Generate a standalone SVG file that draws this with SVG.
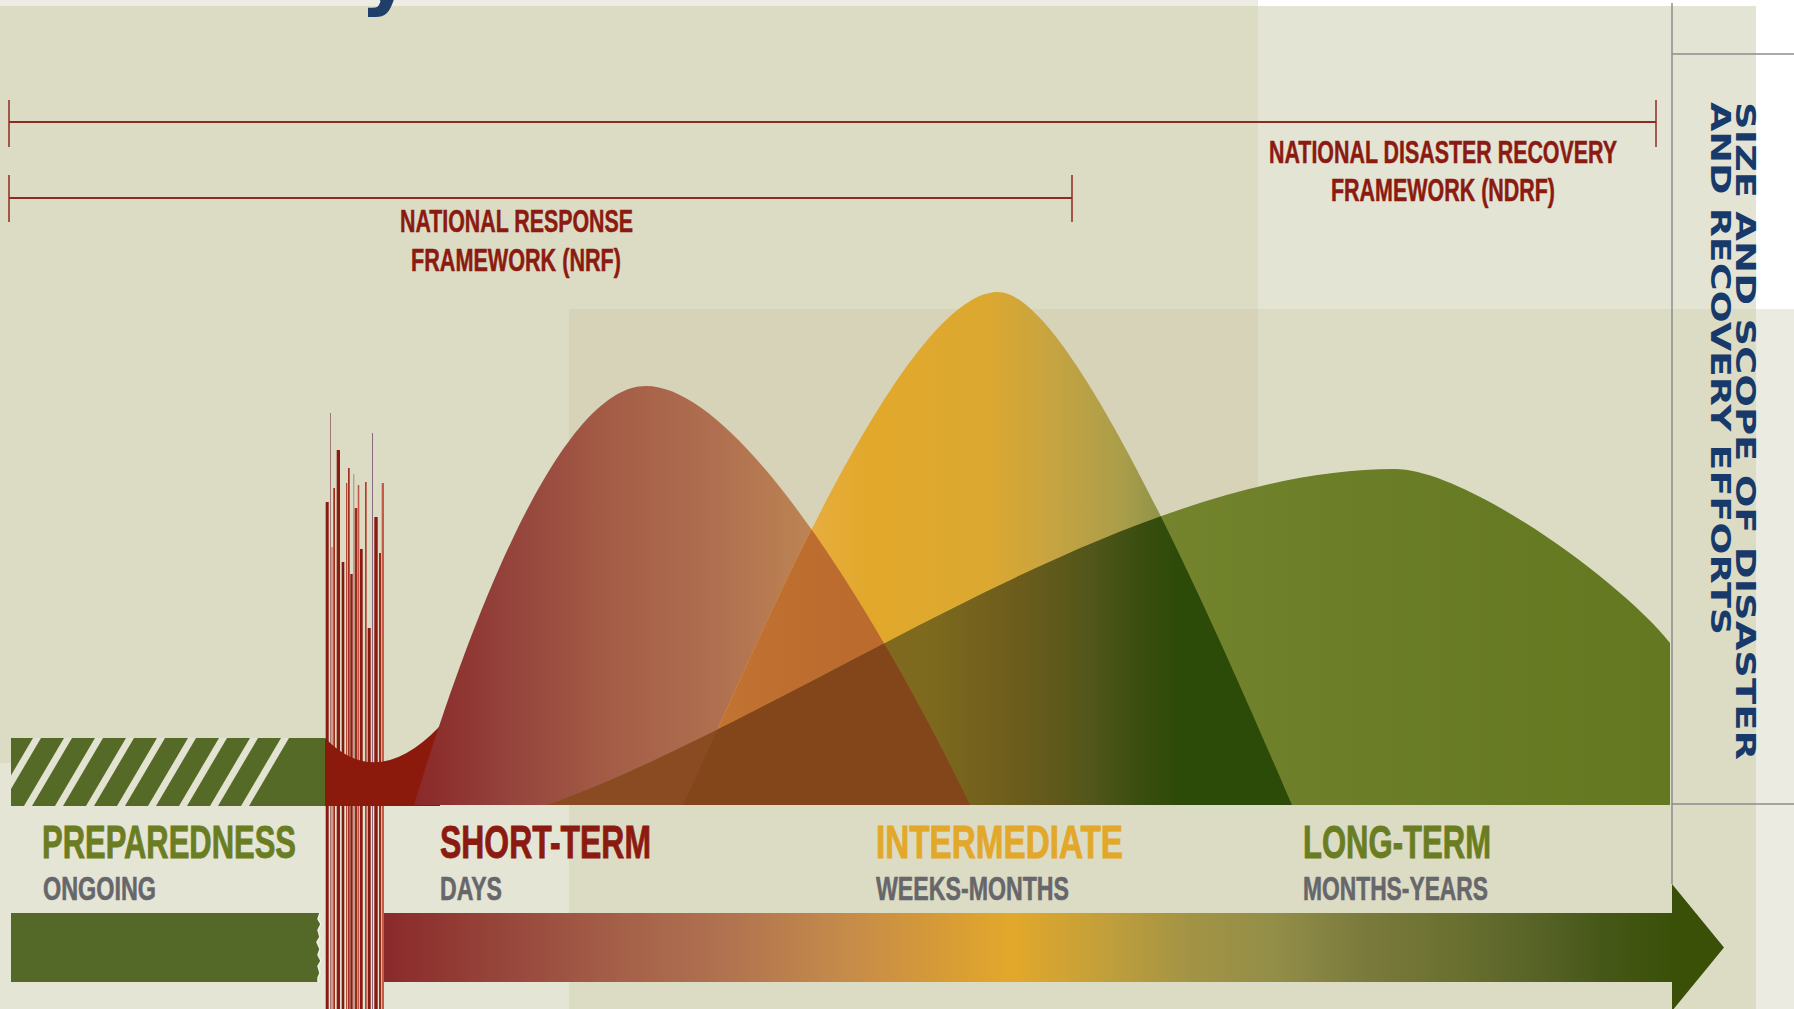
<svg xmlns="http://www.w3.org/2000/svg" width="1794" height="1009" viewBox="0 0 1794 1009">
<defs>
<style>
.lbl{font-family:"Liberation Sans Narrow","Liberation Sans",Arial,sans-serif;font-weight:bold}
.fw{fill:#8b1a10;stroke:#8b1a10;stroke-width:0.5;font-size:31px}
.big{font-size:47px;stroke-width:0.9}
.sub{font-size:33px;fill:#67676b;stroke:#67676b;stroke-width:0.6}
.vt{font-family:"DejaVu Sans",Verdana,sans-serif;font-weight:bold;font-size:26px;fill:#173a6b}
.br{stroke:#8f2a22;fill:none}
.gl{stroke:#8c8c8c;stroke-width:1.5;fill:none}
.stripe{fill:#e3e3d1}
</style>
<linearGradient id="gR" gradientUnits="userSpaceOnUse" x1="414" y1="0" x2="970" y2="0">
<stop offset="0" stop-color="#8a2828"/><stop offset="0.15" stop-color="#93403a"/><stop offset="0.35" stop-color="#a45c46"/><stop offset="0.55" stop-color="#b07050"/><stop offset="0.7" stop-color="#bc8252"/><stop offset="1" stop-color="#c8905a"/>
</linearGradient>
<linearGradient id="gY" gradientUnits="userSpaceOnUse" x1="683" y1="0" x2="1292" y2="0">
<stop offset="0" stop-color="#f0ba62"/><stop offset="0.15" stop-color="#ebb04a"/><stop offset="0.3" stop-color="#e2a82c"/><stop offset="0.5" stop-color="#dca830"/><stop offset="0.6" stop-color="#c8a440"/><stop offset="0.72" stop-color="#aa9e4a"/><stop offset="0.8" stop-color="#8a9048"/><stop offset="1" stop-color="#5a6a28"/>
</linearGradient>
<linearGradient id="gO" gradientUnits="userSpaceOnUse" x1="683" y1="0" x2="970" y2="0">
<stop offset="0" stop-color="#c47634"/><stop offset="0.5" stop-color="#bc6c2e"/><stop offset="1" stop-color="#b8682a"/>
</linearGradient>
<linearGradient id="gG" gradientUnits="userSpaceOnUse" x1="547" y1="0" x2="1670" y2="0">
<stop offset="0" stop-color="#7a6a2a"/><stop offset="0.5" stop-color="#76862f"/><stop offset="0.7" stop-color="#6c7e28"/><stop offset="1" stop-color="#637820"/>
</linearGradient>
<linearGradient id="gGY" gradientUnits="userSpaceOnUse" x1="683" y1="0" x2="1292" y2="0">
<stop offset="0" stop-color="#82661e"/><stop offset="0.4" stop-color="#7e6a1e"/><stop offset="0.55" stop-color="#6c5c1c"/><stop offset="0.67" stop-color="#52561a"/><stop offset="0.75" stop-color="#3a4e10"/><stop offset="0.82" stop-color="#2c4a08"/><stop offset="1" stop-color="#2c4a08"/>
</linearGradient>
<linearGradient id="gA" gradientUnits="userSpaceOnUse" x1="384" y1="0" x2="1724" y2="0">
<stop offset="0" stop-color="#8a2a2a"/><stop offset="0.083" stop-color="#96443a"/><stop offset="0.169" stop-color="#a45e48"/><stop offset="0.254" stop-color="#b07250"/><stop offset="0.34" stop-color="#c48a4a"/><stop offset="0.404" stop-color="#d4983a"/><stop offset="0.468" stop-color="#e2a82a"/><stop offset="0.533" stop-color="#c4a03a"/><stop offset="0.597" stop-color="#a49444"/><stop offset="0.666" stop-color="#928e48"/><stop offset="0.732" stop-color="#7a7a3c"/><stop offset="0.799" stop-color="#6a7030"/><stop offset="0.864" stop-color="#566226"/><stop offset="0.907" stop-color="#465818"/><stop offset="0.963" stop-color="#3a5008"/><stop offset="1" stop-color="#3a5006"/>
</linearGradient>
<clipPath id="cR"><path d="M414,805 C470,620 560,386 646,386 C730,386 860,580 970,805 Z"/></clipPath>
<clipPath id="cY"><path d="M683,805 C743,678 900,292 998,292 C1070,292 1212,620 1292,805 Z"/></clipPath>
<clipPath id="cBar"><rect x="11" y="738" width="314" height="68"/></clipPath>
</defs>

<g id="background">
<rect x="0" y="0" width="1794" height="1009" fill="#dcdcc5"/>
<rect x="0" y="0" width="1258" height="6" fill="#ececE2"/>
<rect x="1258" y="0" width="536" height="309" fill="#ffffff"/>
<rect x="1258" y="6" width="498" height="303" fill="#e4e4d4"/>
<rect x="1756" y="309" width="38" height="700" fill="#ebebe1"/>
<rect x="0" y="763" width="569" height="246" fill="#e5e5d5"/>
<rect x="569" y="309" width="689" height="496" fill="#d7d3b8"/>
</g>

<g id="title-fragment">
<text x="360" y="0" font-family="DejaVu Sans, sans-serif" font-weight="bold" font-size="80" fill="#1f3f6a">y</text>
</g>

<g id="connectors">
<line class="br" x1="9" y1="122" x2="1656" y2="122" stroke-width="2.2"/>
<line class="br" x1="9" y1="100" x2="9" y2="147" stroke-width="1.5"/>
<line class="br" x1="1656" y1="100" x2="1656" y2="147" stroke-width="1.5"/>
<line class="br" x1="9" y1="198" x2="1072" y2="198" stroke-width="2.2"/>
<line class="br" x1="9" y1="175" x2="9" y2="222" stroke-width="1.5"/>
<line class="br" x1="1072" y1="175" x2="1072" y2="222" stroke-width="1.5"/>
</g>

<g id="ndrf-label">
<text class="lbl fw" x="1269" y="163" textLength="348" lengthAdjust="spacingAndGlyphs">NATIONAL DISASTER RECOVERY</text>
<text class="lbl fw" x="1331" y="201" textLength="224" lengthAdjust="spacingAndGlyphs">FRAMEWORK (NDRF)</text>
</g>
<g id="nrf-label">
<text class="lbl fw" x="400" y="232" textLength="233" lengthAdjust="spacingAndGlyphs">NATIONAL RESPONSE</text>
<text class="lbl fw" x="411" y="271" textLength="210" lengthAdjust="spacingAndGlyphs">FRAMEWORK (NRF)</text>
</g>

<g id="preparedness-bar">
<rect x="11" y="738" width="314" height="68" fill="#566a28"/>
<g clip-path="url(#cBar)" class="stripe">
<polygon points="33,738 41,738 1,806 -7,806"/>
<polygon points="64,738 72,738 32,806 24,806"/>
<polygon points="95,738 103,738 63,806 55,806"/>
<polygon points="126,738 134,738 94,806 86,806"/>
<polygon points="157,738 165,738 125,806 117,806"/>
<polygon points="188,738 196,738 156,806 148,806"/>
<polygon points="219,738 227,738 187,806 179,806"/>
<polygon points="250,738 258,738 218,806 210,806"/>
<polygon points="281,738 289,738 249,806 241,806"/>
</g>
</g>

<g id="disaster-spikes">
<rect x="325.7" y="502" width="3" height="507" fill="#8b1a10"/>
<rect x="330" y="413" width="1" height="596" fill="#a07878"/>
<rect x="331" y="547" width="2" height="462" fill="#d49a88"/>
<rect x="333.3" y="488" width="1.7" height="521" fill="#a02c1c"/>
<rect x="336.7" y="450" width="3.3" height="559" fill="#8b1a10"/>
<rect x="341.7" y="562" width="2.6" height="447" fill="#7e1a10"/>
<rect x="346" y="483" width="1.3" height="526" fill="#b84838"/>
<rect x="348" y="468" width="1.7" height="541" fill="#a03020"/>
<rect x="350.3" y="574" width="2.4" height="435" fill="#8b1a10"/>
<rect x="353.3" y="474" width="1" height="535" fill="#a88888"/>
<rect x="354.7" y="508" width="2.6" height="501" fill="#9b2a1a"/>
<rect x="357.7" y="485" width="1.6" height="524" fill="#c45444"/>
<rect x="360" y="549" width="2.7" height="460" fill="#8b1a10"/>
<rect x="365" y="482" width="1.7" height="527" fill="#b04030"/>
<rect x="367.7" y="628" width="3" height="381" fill="#8b1a10"/>
<rect x="372" y="433" width="1" height="576" fill="#8a6a80"/>
<rect x="374.3" y="517" width="3.4" height="492" fill="#8b1a10"/>
<rect x="379" y="553" width="2" height="456" fill="#9b2a1a"/>
<rect x="381.7" y="483" width="2.3" height="526" fill="#c45a48"/>
<path d="M325,738 Q377,792 440,726 L440,806 L325,806 Z" fill="#8b1a0c"/>
</g>

<g id="curves">
<path id="short-term-curve" d="M414,805 C470,620 560,386 646,386 C730,386 860,580 970,805 Z" fill="url(#gR)"/>
<path id="intermediate-curve" d="M683,805 C743,678 900,292 998,292 C1070,292 1212,620 1292,805 Z" fill="url(#gY)"/>
<g clip-path="url(#cR)"><path d="M683,805 C743,678 900,292 998,292 C1070,292 1212,620 1292,805 Z" fill="url(#gO)"/></g>
<path id="long-term-curve" d="M547,805 C800,715 1120,469 1395,469 C1465,469 1620,580 1670,643 L1670,805 Z" fill="url(#gG)"/>
<g clip-path="url(#cY)"><path d="M547,805 C800,715 1120,469 1395,469 C1465,469 1620,580 1670,643 L1670,805 Z" fill="url(#gGY)"/></g>
<g clip-path="url(#cR)"><path d="M547,805 C800,715 1120,469 1395,469 C1465,469 1620,580 1670,643 L1670,805 Z" fill="#8a4b23"/></g>
<g clip-path="url(#cR)"><g clip-path="url(#cY)"><path d="M547,805 C800,715 1120,469 1395,469 C1465,469 1620,580 1670,643 L1670,805 Z" fill="#83461b"/></g></g>
</g>

<g id="phase-labels">
<text class="lbl big" x="42" y="858" fill="#6b7d23" stroke="#6b7d23" textLength="254" lengthAdjust="spacingAndGlyphs">PREPAREDNESS</text>
<text class="lbl sub" x="43" y="900" textLength="113" lengthAdjust="spacingAndGlyphs">ONGOING</text>
<text class="lbl big" x="440" y="858" fill="#8b1a10" stroke="#8b1a10" textLength="211" lengthAdjust="spacingAndGlyphs">SHORT-TERM</text>
<text class="lbl sub" x="440" y="900" textLength="62" lengthAdjust="spacingAndGlyphs">DAYS</text>
<text class="lbl big" x="876" y="858" fill="#e2a82a" stroke="#e2a82a" textLength="247" lengthAdjust="spacingAndGlyphs">INTERMEDIATE</text>
<text class="lbl sub" x="876" y="900" textLength="193" lengthAdjust="spacingAndGlyphs">WEEKS-MONTHS</text>
<text class="lbl big" x="1303" y="858" fill="#6b7d23" stroke="#6b7d23" textLength="188" lengthAdjust="spacingAndGlyphs">LONG-TERM</text>
<text class="lbl sub" x="1303" y="900" textLength="185" lengthAdjust="spacingAndGlyphs">MONTHS-YEARS</text>
</g>

<g id="timeline-arrow">
<path d="M11,913 H320 l-2,6 l3,5 l-3,6 l2,7 l-3,5 l3,7 l-2,6 l3,6 l-3,5 l2,7 l-2,5 L318,982 H11 Z" fill="#546828"/>
<polyline points="320,913 318,919 321,924 318,930 320,937 317,942 320,949 318,955 321,961 318,966 320,973 318,978 318,982" fill="none" stroke="#f2f2ea" stroke-width="1.5"/>
<path d="M384,913 H1672 V884 L1724,947.5 L1672,1011 V982 H384 Z" fill="url(#gA)"/>
</g>

<g id="frame-lines">
<line class="gl" x1="1672" y1="3" x2="1672" y2="884"/>
<line class="gl" x1="1672" y1="54" x2="1794" y2="54"/>
<line class="gl" x1="1672" y1="804" x2="1794" y2="804"/>
</g>

<g id="axis-label">
<text class="vt" transform="translate(1736,102) rotate(90)" textLength="658" lengthAdjust="spacingAndGlyphs">SIZE AND SCOPE OF DISASTER</text>
<text class="vt" transform="translate(1711,102) rotate(90)" textLength="533" lengthAdjust="spacingAndGlyphs">AND RECOVERY EFFORTS</text>
</g>
</svg>
